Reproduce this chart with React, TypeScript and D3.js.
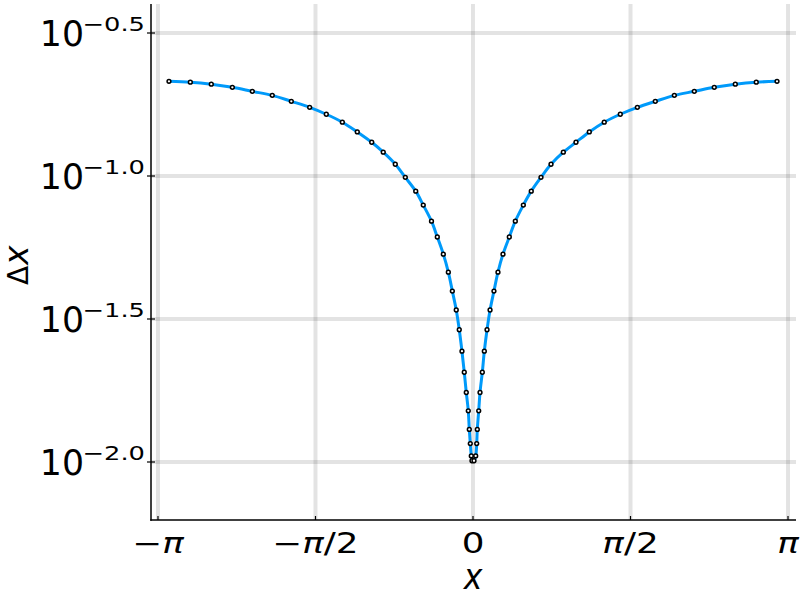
import React from 'react';
import * as d3 from 'd3';

// sample positions (x) and values (Δx)
const xs = [
  -3.032, -2.819, -2.610, -2.400, -2.201, -2.002, -1.812, -1.629, -1.463, -1.303,
  -1.154, -1.010, -0.895, -0.775, -0.675, -0.571, -0.496, -0.414, -0.356, -0.296,
  -0.246, -0.206, -0.167, -0.137, -0.110, -0.087, -0.067, -0.047, -0.037, -0.027,
  -0.017, -0.010,
  0.010, 0.027, 0.037, 0.043, 0.057, 0.070, 0.093, 0.113, 0.140, 0.170,
  0.209, 0.249, 0.299, 0.362, 0.422, 0.502, 0.581, 0.678, 0.778, 0.901,
  1.027, 1.160, 1.309, 1.469, 1.639, 1.818, 2.008, 2.207, 2.406, 2.616,
  2.825, 3.032,
];
const dx = [
  0.2143, 0.2128, 0.2094, 0.2042, 0.1977, 0.1914, 0.1824, 0.1738, 0.1644, 0.1542,
  0.1426, 0.1312, 0.1211, 0.1099, 0.0989, 0.0885, 0.0791, 0.0695, 0.0612, 0.0533,
  0.0461, 0.0396, 0.0340, 0.0290, 0.0244, 0.0206, 0.0175, 0.0151, 0.0130, 0.0116,
  0.0105, 0.0101,
  0.0101, 0.0105, 0.0116, 0.0130, 0.0151, 0.0175, 0.0206, 0.0244, 0.0290, 0.0340,
  0.0396, 0.0461, 0.0533, 0.0612, 0.0695, 0.0791, 0.0885, 0.0989, 0.1099, 0.1211,
  0.1312, 0.1426, 0.1542, 0.1644, 0.1738, 0.1824, 0.1914, 0.1977, 0.2042, 0.2094,
  0.2128, 0.2143,
];

const xTicks = [-Math.PI, -Math.PI / 2, 0, Math.PI / 2, Math.PI];
const xTickLabels = ['−π', '−π/2', '0', 'π/2', 'π'];
const yTickExps = [-0.5, -1.0, -1.5, -2.0];
const yTickLabels = ['−0.5', '−1.0', '−1.5', '−2.0'];

const FONT = "'DejaVu Sans', sans-serif";

function renderPiLabel(s: string) {
  const parts = s.split(/(π)/).filter((p) => p.length > 0);
  return parts.map((p, i) =>
    p === 'π' ? (
      <tspan key={i} fontStyle="italic">π</tspan>
    ) : (
      <tspan key={i}>{p}</tspan>
    )
  );
}

export default function App() {
  const W = 800;
  const H = 600;
  const left = 151;
  const right = 796;
  const top = 4;
  const bottom = 520;

  const x = d3.scaleLinear().domain([-3.2113, 3.2213]).range([left, right]);
  const y = d3
    .scaleLog()
    .domain([Math.pow(10, -2.2028), Math.pow(10, -0.3986)])
    .range([bottom, top]);

  const pts: [number, number][] = xs.map((v, i) => [v, dx[i]]);
  const line = d3
    .line<[number, number]>()
    .x((d) => x(d[0]))
    .y((d) => y(d[1]))
    .curve(d3.curveCatmullRom.alpha(0.5));

  return (
    <svg
      width={W}
      height={H}
      style={{ position: 'absolute', left: 0, top: 0, background: '#fff' }}
      fontFamily={FONT}
    >
      <rect x={0} y={0} width={W} height={H} fill="#fff" />
      {/* grid */}
      <g stroke="#000" strokeOpacity={0.11} strokeWidth={4}>
        {xTicks.map((t, i) => (
          <line key={'gx' + i} x1={x(t)} x2={x(t)} y1={top} y2={bottom} />
        ))}
        {yTickExps.map((e, i) => (
          <line
            key={'gy' + i}
            x1={left}
            x2={right}
            y1={y(Math.pow(10, e))}
            y2={y(Math.pow(10, e))}
          />
        ))}
      </g>
      {/* axes */}
      <g stroke="#000" strokeWidth={1.5}>
        <line x1={left} x2={left} y1={top} y2={bottom + 0.75} />
        <line x1={left - 0.75} x2={right} y1={bottom} y2={bottom} />
        {xTicks.map((t, i) => (
          <line key={'tx' + i} x1={x(t)} x2={x(t)} y1={bottom} y2={bottom - 4} strokeWidth={1.2} />
        ))}
        {yTickExps.map((e, i) => (
          <line
            key={'ty' + i}
            x1={left - 4}
            x2={left + 4}
            y1={y(Math.pow(10, e))}
            y2={y(Math.pow(10, e))}
            strokeWidth={1.2}
          />
        ))}
      </g>
      {/* x tick labels */}
      {xTicks.map((t, i) => (
        <g key={'lx' + i} transform={`translate(${x(t)},552.5) scale(1.3,1)`}>
          <text textAnchor="middle" fontSize={27.5} fill="#000">
            {renderPiLabel(xTickLabels[i])}
          </text>
        </g>
      ))}
      {/* y tick labels */}
      {yTickExps.map((e, i) => {
        const yy = y(Math.pow(10, e));
        return (
          <g key={'ly' + i}>
            <text x={84} y={yy + 13} textAnchor="end" fontSize={34.7} fill="#000">
              10
            </text>
            <g transform={`translate(145,${yy - 2}) scale(1.32,1)`}>
              <text textAnchor="end" fontSize={19.5} fill="#000">
                {yTickLabels[i]}
              </text>
            </g>
          </g>
        );
      })}
      {/* axis labels */}
      <g transform="translate(473,589) scale(0.9,1)">
        <text textAnchor="middle" fontSize={35} fontStyle="italic" fill="#000">
          x
        </text>
      </g>
      <g transform="translate(28,285) rotate(-90)">
        <text x={0} y={0} fontSize={28} fill="#000">
          Δ
        </text>
        <text x={20} y={0} fontSize={33} fontStyle="italic" fill="#000">
          x
        </text>
      </g>
      {/* curve */}
      <path d={line(pts) || ''} fill="none" stroke="#009AFA" strokeWidth={3} strokeLinejoin="round" />
      {/* markers */}
      <g>
        {pts.map((d, i) => (
          <circle
            key={'m' + i}
            cx={x(d[0])}
            cy={y(d[1])}
            r={1.9}
            fill="#fff"
            stroke="#000"
            strokeWidth={1.5}
          />
        ))}
      </g>
    </svg>
  );
}
